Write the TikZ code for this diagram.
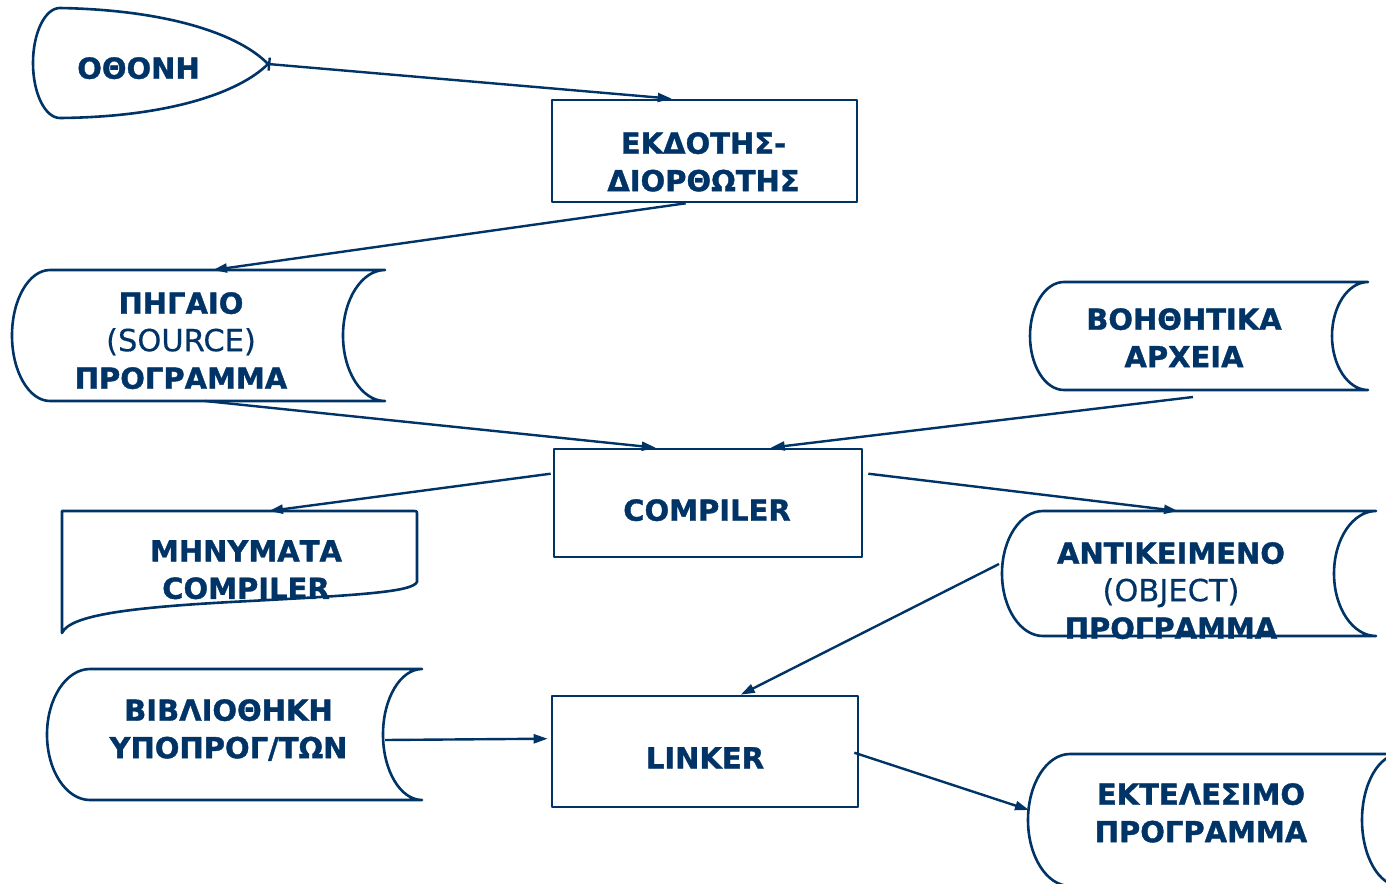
\documentclass[tikz,border=0pt]{standalone}
\usepackage{fontspec}
\setmainfont{DejaVu Sans}[BoldFeatures={FakeBold=1.2}]
\newfontfamily\midweight{DejaVu Sans}[FakeBold=0.4]
\usetikzlibrary{arrows.meta}
\definecolor{navy}{HTML}{003366}
\tikzset{
  outline/.style={draw=navy, line width=2.6pt, line join=round},
  procbox/.style={outline, rectangle, inner sep=0pt},
  link/.style={draw=navy, line width=2.4pt, -{Triangle[length=14pt,width=9pt]}},
  lbl/.style={text=navy, inner sep=0pt, anchor=north, align=center,
              font=\fontsize{29}{37.5}\selectfont\bfseries},
}
% lighter line inside a bold label
\newcommand\lightline[1]{{\midweight\mdseries\fontsize{30.5}{37.5}\selectfont #1}}
% stored-data symbol: #1 left extreme x, #2 top y, #3 right end x,
% #4 bottom y, #5 left bulge, #6 right hollow (y measured downwards)
\newcommand\storedshape[6]{%
  \draw[outline] (#1+#5,-#2) -- (#3,-#2)
    arc[start angle=90, end angle=270, x radius=#6, y radius={(#4-#2)/2}]
    -- (#1+#5,-#4)
    arc[start angle=270, end angle=90, x radius=#5, y radius={(#4-#2)/2}]
    -- cycle;}
\begin{document}
\begin{tikzpicture}[x=1pt,y=1pt]
\useasboundingbox (0,0) rectangle (1386,-883);
\clip (0,0) rectangle (1386,-883);

% display (screen)
\draw[outline] (60,-8) .. controls (170,-10) and (240,-35) .. (268,-64)
  .. controls (240,-92) and (170,-117) .. (60,-118)
  arc[start angle=270, end angle=90, x radius=27, y radius=55] -- cycle;
\coordinate (scr-tip) at (268,-64);
\node[lbl] (t-scr) at (138.5,-57) {ΟΘΟΝΗ};

% process boxes
\node[procbox, minimum width=305pt, minimum height=102pt] (ed)  at (704.5,-151) {};
\node[procbox, minimum width=308pt, minimum height=108pt] (cmp) at (708,-503) {};
\node[procbox, minimum width=306pt, minimum height=111pt] (lnk) at (705,-751.5) {};
\node[lbl] (t-ed)  at (703.5,-132) {ΕΚΔΟΤΗΣ-\\ΔΙΟΡΘΩΤΗΣ};
\node[lbl] (t-cmp) at (707,-499) {COMPILER};
\node[lbl] (t-lnk) at (705,-747) {LINKER};

% stored data
\storedshape{12}{270}{385}{401}{38}{42}
\coordinate (src-in)  at (213,-270);
\coordinate (src-out) at (205,-401);
\node[lbl] (t-src) at (181,-292) {ΠΗΓΑΙΟ\\\lightline{(SOURCE)}\\ΠΡΟΓΡΑΜΜΑ};

\storedshape{1030}{282}{1368}{390}{34}{36}
\coordinate (aux-out) at (1193,-397);
\node[lbl] (t-aux) at (1184,-308) {ΒΟΗΘΗΤΙΚΑ\\ΑΡΧΕΙΑ};

\storedshape{1002}{511}{1376}{636}{41}{42}
\coordinate (obj-in)  at (1178,-511);
\coordinate (obj-out) at (999,-564);
\node[lbl] (t-obj) at (1171,-542) {ΑΝΤΙΚΕΙΜΕΝΟ\\\lightline{(OBJECT)}\\ΠΡΟΓΡΑΜΜΑ};

\storedshape{47}{669}{422}{800}{43}{39}
\coordinate (lib-out) at (385,-740);
\node[lbl] (t-lib) at (228.5,-699) {ΒΙΒΛΙΟΘΗΚΗ\\ΥΠΟΠΡΟΓ/ΤΩΝ};

\storedshape{1028}{754}{1400}{886}{42}{38}
\coordinate (exe-in) at (1029,-810);
\node[lbl] (t-exe) at (1201,-783) {ΕΚΤΕΛΕΣΙΜΟ\\ΠΡΟΓΡΑΜΜΑ};

% document (compiler messages)
\draw[outline] (62,-511) -- (413,-511) .. controls (417,-511) .. (417,-515)
  -- (417,-582) .. controls (412,-592) and (360,-595) .. (250,-601)
  .. controls (130,-607) and (70,-615) .. (62,-633) -- cycle;
\coordinate (msg-in) at (269,-511);
\node[lbl] (t-msg) at (246,-540) {ΜΗΝΥΜΑΤΑ\\COMPILER};

% connectors
\draw[link, {Bar[width=13pt]}-{Triangle[length=14pt,width=9pt]}]
  (scr-tip) -- ([xshift=121pt]ed.north west);
\draw[link] ([xshift=135pt]ed.south west) -- (src-in);
\draw[link] (src-out) -- ([xshift=103pt]cmp.north west);
\draw[link] (aux-out) -- ([xshift=218pt]cmp.north west);
\draw[link] ([xshift=-2pt,yshift=-26pt]cmp.north west) -- (msg-in);
\draw[link] ([xshift=5pt,yshift=-26pt]cmp.north east) -- (obj-in);
\draw[link] (obj-out) -- ([xshift=190pt]lnk.north west);
\draw[link] (lib-out) -- ([xshift=-3pt,yshift=-44pt]lnk.north west);
\draw[link] ([xshift=-5pt,yshift=-58pt]lnk.north east) -- (exe-in);
\end{tikzpicture}
\end{document}
